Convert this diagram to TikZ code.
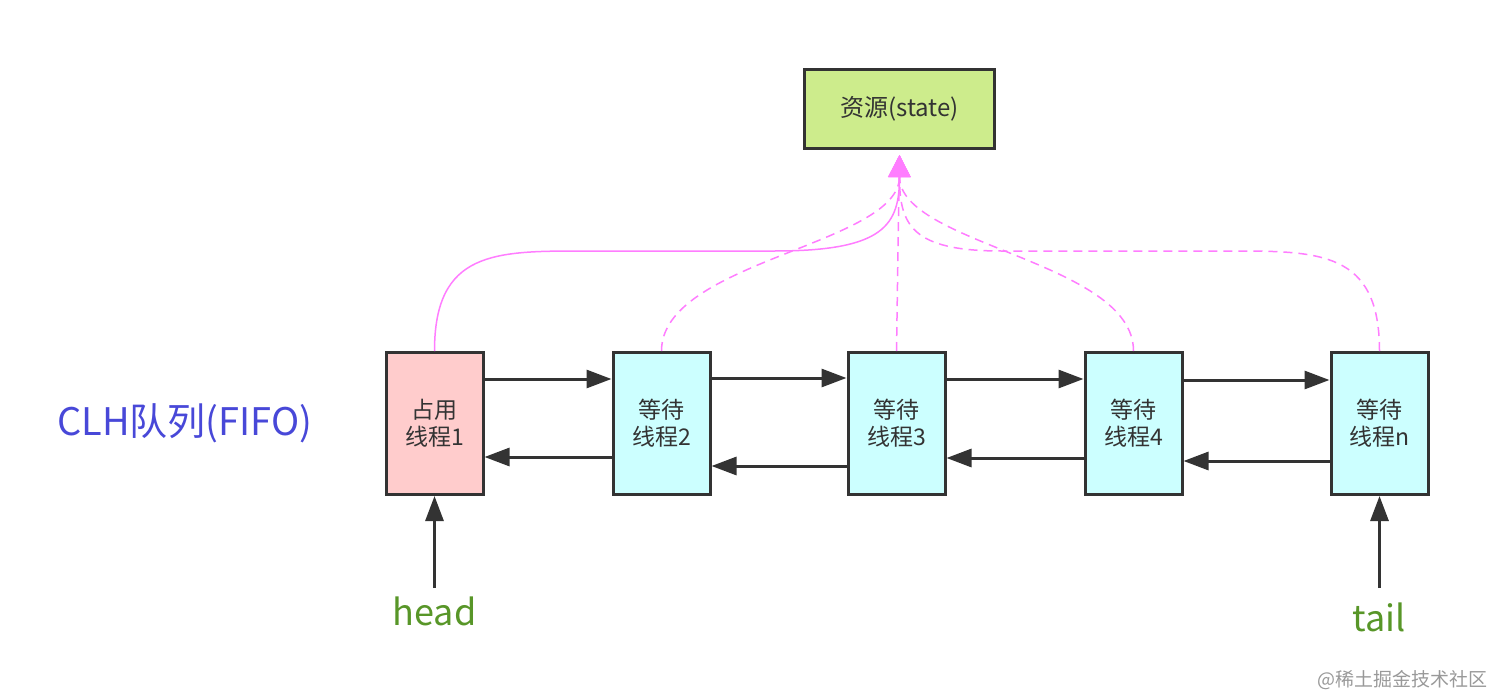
\documentclass[tikz,border=0pt]{standalone}
\usepackage{fontspec}
\setmainfont{Noto Sans CJK SC}
\usepackage{tikz}
\usetikzlibrary{positioning}
\usetikzlibrary{arrows.meta}
\definecolor{Ocol}{RGB}{255,204,204}
\definecolor{Wcol}{RGB}{204,255,255}
\definecolor{Rcol}{RGB}{205,236,140}
\definecolor{Pcol}{RGB}{255,125,255}
\definecolor{Tcol}{RGB}{51,51,51}
\definecolor{Qcol}{RGB}{72,72,216}
\definecolor{Gcol}{RGB}{88,150,40}
\tikzset{
  qbox/.style={draw=Tcol,line width=3pt,minimum width=97pt,minimum height=142pt,inner sep=0,align=center,text=Tcol,font=\fontsize{23}{27}\selectfont},
  owner/.style={qbox,fill=Ocol},
  waiting/.style={qbox,fill=Wcol},
  link/.style={-{Triangle[length=25pt,width=18pt]},line width=3pt,Tcol},
  hold/.style={-{Triangle[length=22pt,width=22pt]},line width=1.5pt,Pcol,shorten >=5pt},
  waithold/.style={hold,dash pattern=on 9pt off 6pt},
  ptr/.style={inner sep=0,outer sep=9pt,text=Gcol,font=\fontsize{36}{40}\selectfont},
}
\begin{document}
\begin{tikzpicture}[x=1pt,y=-1pt]
  \useasboundingbox (0,0) rectangle (1492,696);
  \node[qbox,fill=Rcol,minimum width=190pt,minimum height=79pt,font=\fontsize{24}{28}\selectfont] (res) at (899.5,109) {资源(state)};
  \node[owner] (t1) at (434.5,423.5) {占用\\线程1};
  \node[waiting,right=127pt of t1] (t2) {等待\\线程2};
  \node[waiting,right=135pt of t2] (t3) {等待\\线程3};
  \node[waiting,right=137pt of t3] (t4) {等待\\线程4};
  \node[waiting,right=146pt of t4] (t5) {等待\\线程n};
  \node[left=72pt of t1,inner sep=0,text=Qcol,font=\fontsize{38}{44}\selectfont] (clh) {CLH队列(FIFO)};
  \node[ptr,below=92pt of t1] (head) {head};
  \node[ptr,below=92pt of t5,outer sep=15pt] (tail) {tail};
  \node[anchor=east,inner sep=0,text=black!40,font=\fontsize{19}{22}\selectfont] (mark) at (1488,680) {@稀土掘金技术社区};
  \draw[link] ([yshift=-28pt]t1.north east) -- ([yshift=-28pt]t2.north west);
  \draw[link] ([yshift=-27pt]t2.north east) -- ([yshift=-27pt]t3.north west);
  \draw[link] ([yshift=-28pt]t3.north east) -- ([yshift=-28pt]t4.north west);
  \draw[link] ([yshift=-29pt]t4.north east) -- ([yshift=-29pt]t5.north west);
  \draw[link] ([yshift=-106pt]t2.north west) -- ([yshift=-106pt]t1.north east);
  \draw[link] ([yshift=-115pt]t3.north west) -- ([yshift=-115pt]t2.north east);
  \draw[link] ([yshift=-107pt]t4.north west) -- ([yshift=-107pt]t3.north east);
  \draw[link] ([yshift=-110pt]t5.north west) -- ([yshift=-110pt]t4.north east);
  \draw[link] (head.north) -- (t1.south);
  \draw[link] (tail.north) -- (t5.south);
  \draw[hold] (t1.north) .. controls +(0,-100) and +(-90,0) .. ++(150,-100) -- ++(190,0) .. controls +(110,0) and +(0,75) .. (res.south);
  \draw[waithold] (t2.north) .. controls +(0,-90) and +(0,95) .. (res.south);
  \draw[waithold] (t3.north) -- (res.south);
  \draw[waithold] (t4.north) .. controls +(0,-90) and +(0,95) .. (res.south);
  \draw[waithold] (t5.north) .. controls +(0,-100) and +(90,0) .. ++(-150,-100) -- ++(-228,0) .. controls +(-90,0) and +(0,75) .. (res.south);
\end{tikzpicture}
\end{document}
